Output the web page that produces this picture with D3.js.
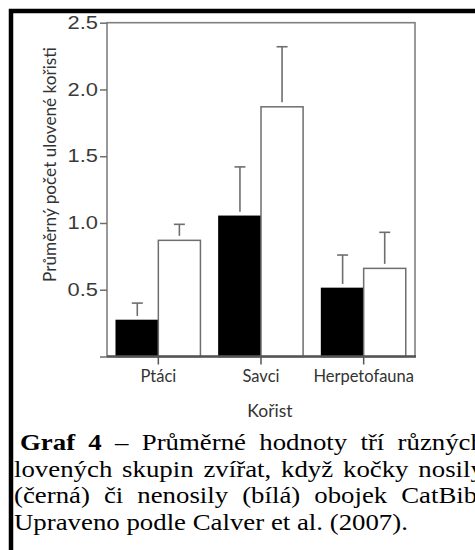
<!DOCTYPE html>
<html><head><meta charset="utf-8">
<script src="https://cdn.jsdelivr.net/npm/d3@7"></script>
<style>body{margin:0;background:#fff}svg{display:block}</style>
</head><body>
<svg id="c" width="475" height="550"></svg>
<script>
// ---- data ----
const categories = ["Ptáci", "Savci", "Herpetofauna"];
const series = ["nosily obojek", "nenosily obojek"]; // black, white
const collarMeans = [0.27, 1.05, 0.51];
const collarUpper = [0.40, 1.42, 0.76];
const noCollarMeans = [0.87, 1.87, 0.66];
const noCollarUpper = [0.99, 2.32, 0.93];
const yTicks = [0, 0.5, 1.0, 1.5, 2.0, 2.5];
const yTickLabels = ["", "0.5", "1.0", "1.5", "2.0", "2.5"];
const yTitle = "Průměrný počet ulovené kořisti";
const xTitle = "Kořist";
const captionLines = [
  [{t: "Graf 4", b: true}, {t: " – Průměrné hodnoty tří různých"}],
  [{t: "lovených skupin zvířat, když kočky nosily"}],
  [{t: "(černá) či nenosily (bílá) obojek CatBib."}],
  [{t: "Upraveno podle Calver et al. (2007)."}]
];

// ---- layout ----
const svg = d3.select("#c");
svg.append("rect").attr("width", 475).attr("height", 550).attr("fill", "#fff");
svg.append("path").attr("d", "M11,550 V11 H475").attr("fill", "none")
  .attr("stroke", "#000").attr("stroke-width", 4.5);

const plot = {l: 107, r: 415, t: 22.7, b: 356.5};
const x0 = d3.scaleBand().domain(categories).range([plot.l, plot.r])
  .paddingInner(0.18).paddingOuter(0.09);
const x1 = d3.scaleBand().domain(series).range([0, x0.bandwidth()]);
const y = d3.scaleLinear().domain([0, 2.5]).range([plot.b, plot.t]);

const gray = "#6e6e6e";
// frame
svg.append("rect").attr("x", plot.l).attr("y", plot.t)
  .attr("width", plot.r - plot.l).attr("height", plot.b - plot.t)
  .attr("fill", "none").attr("stroke", "#808080").attr("stroke-width", 1.6);

// bars
const rows = categories.map((c, i) => ({
  c, vals: [
    {s: series[0], m: collarMeans[i], u: collarUpper[i]},
    {s: series[1], m: noCollarMeans[i], u: noCollarUpper[i]}
  ]
}));
const g = svg.append("g");
const grp = g.selectAll("g").data(rows).join("g")
  .attr("transform", d => `translate(${x0(d.c)},0)`);
grp.selectAll("rect").data(d => d.vals).join("rect")
  .attr("x", d => x1(d.s)).attr("width", x1.bandwidth())
  .attr("y", d => y(d.m)).attr("height", d => y(0) - y(d.m))
  .attr("fill", (d, i) => i === 0 ? "#000" : "#fff")
  .attr("stroke", (d, i) => i === 0 ? "#000" : gray)
  .attr("stroke-width", 1.5);
// error bars
grp.selectAll("line.err").data(d => d.vals).join("line").attr("class", "err")
  .attr("x1", d => x1(d.s) + x1.bandwidth() / 2).attr("x2", d => x1(d.s) + x1.bandwidth() / 2)
  .attr("y1", d => y(d.m) - 4.5).attr("y2", d => y(d.u))
  .attr("stroke", gray).attr("stroke-width", 1.6);
grp.selectAll("line.cap").data(d => d.vals).join("line").attr("class", "cap")
  .attr("x1", d => x1(d.s) + x1.bandwidth() / 2 - 5.5).attr("x2", d => x1(d.s) + x1.bandwidth() / 2 + 5.5)
  .attr("y1", d => y(d.u)).attr("y2", d => y(d.u))
  .attr("stroke", gray).attr("stroke-width", 1.6);

// bottom baseline
svg.append("line").attr("x1", plot.l).attr("x2", plot.r + 1)
  .attr("y1", plot.b).attr("y2", plot.b).attr("stroke", "#555").attr("stroke-width", 2.4);

// y axis
const ya = svg.append("g").attr("transform", `translate(${plot.l},0)`)
  .call(d3.axisLeft(y).tickValues(yTicks).tickSize(7).tickFormat((d, i) => yTickLabels[i]));
ya.select(".domain").remove();
ya.selectAll(".tick line").attr("stroke", gray).attr("stroke-width", 1.5);
ya.selectAll(".tick text").attr("x", null)
  .attr("transform", "translate(-9,0) scale(1.25,1)")
  .attr("font-family", "'Liberation Sans', Arial, sans-serif").attr("font-size", 17.5)
  .attr("fill", "#3a3a3a");

// x axis
const xa = svg.append("g").attr("transform", `translate(0,${plot.b})`)
  .call(d3.axisBottom(x0).tickSize(8));
xa.select(".domain").remove();
xa.selectAll(".tick line").attr("stroke", "#555").attr("stroke-width", 1.5);
xa.selectAll(".tick text").attr("y", 25).attr("dy", null)
  .attr("font-family", "Lato, 'Open Sans', sans-serif").attr("font-size", 16.5)
  .attr("fill", "#333");

// x title
svg.append("text").attr("x", 270).attr("y", 416.5).attr("text-anchor", "middle")
  .attr("font-family", "Lato, 'Open Sans', sans-serif").attr("font-size", 17.5)
  .attr("fill", "#333").text(xTitle);

// y title (rotated), fitted to length
const yt = svg.append("text").attr("text-anchor", "middle")
  .attr("font-family", "Lato, 'Open Sans', sans-serif").attr("font-size", 15)
  .attr("fill", "#333").text(yTitle);
const ytw = yt.node().getComputedTextLength();
yt.attr("transform", `translate(55.5,164.5) rotate(-90) scale(${235 / ytw},1.15)`);

// caption
const capX = [20, 14, 14, 14];
const capY = [450, 476.7, 503, 529.5];
const lines = captionLines.map((parts, i) => {
  const t = svg.append("text")
    .attr("font-family", "'Liberation Serif', 'Times New Roman', serif")
    .attr("font-size", 22.5).attr("fill", "#000");
  parts.forEach(p => t.append("tspan").attr("font-weight", p.b ? "bold" : null).text(p.t));
  return t;
});
const w4 = lines[3].node().getComputedTextLength();
const sx = (408 - 14) / w4;
lines.forEach((t, i) => {
  if (i < 3) {
    const w = t.node().getComputedTextLength();
    const gaps = captionLines[i].map(p => p.t).join("").split(" ").length - 1;
    const target = (484 - capX[i]) / sx;
    t.attr("word-spacing", (target - w) / gaps);
  }
  t.attr("transform", `translate(${capX[i]},${capY[i]}) scale(${sx},1)`);
});
</script>
</body></html>
